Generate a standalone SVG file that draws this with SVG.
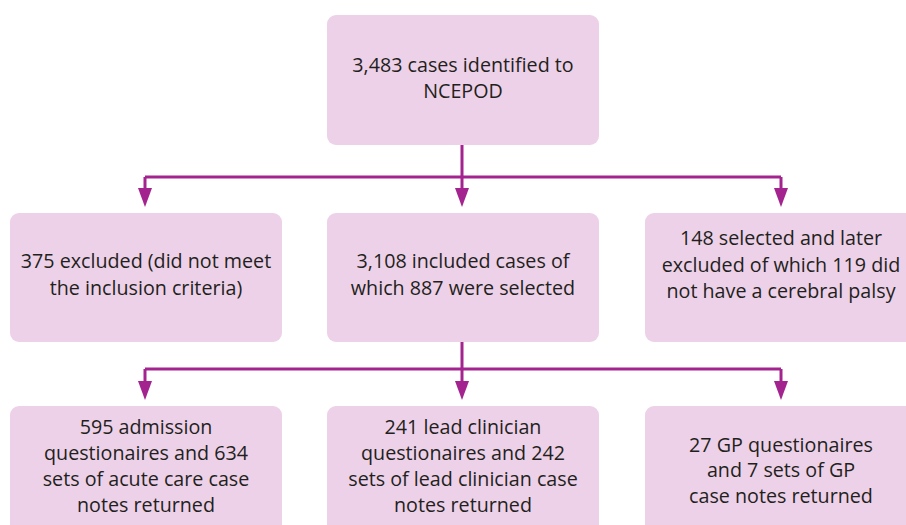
<svg xmlns="http://www.w3.org/2000/svg" width="906" height="525" viewBox="0 0 906 525">
<style>
.box{fill:#edd1e8;}
.t{font-family:"Open Sans","Noto Sans",sans-serif;font-size:19.7px;fill:#231f20;text-anchor:middle;}
.c{fill:none;stroke:#a3238f;stroke-width:3;}
.ah{fill:#a3238f;}
</style>
<rect width="906" height="525" fill="#ffffff"/>
<g id="connectors">
<path class="c" d="M462,145 V177"/>
<path class="c" d="M145,177 H781"/>
<path class="c" d="M145,177 V188"/>
<path class="c" d="M462,177 V188"/>
<path class="c" d="M781,177 V188"/>
<path class="ah" d="M138,188 L152,188 L145,207 Z"/>
<path class="ah" d="M455,188 L469,188 L462,207 Z"/>
<path class="ah" d="M774,188 L788,188 L781,207 Z"/>
<path class="c" d="M462,342 V369"/>
<path class="c" d="M145,369 H781"/>
<path class="c" d="M145,369 V382"/>
<path class="c" d="M462,369 V382"/>
<path class="c" d="M781,369 V382"/>
<path class="ah" d="M138,381 L152,381 L145,400 Z"/>
<path class="ah" d="M455,381 L469,381 L462,400 Z"/>
<path class="ah" d="M774,381 L788,381 L781,400 Z"/>
</g>
<g id="n1">
<rect class="box" x="327" y="15" width="272" height="130" rx="9"/>
<text class="t" x="463" y="72">3,483 cases identified to</text>
<text class="t" x="463" y="98">NCEPOD</text>
</g>
<g id="n2">
<rect class="box" x="10" y="213" width="272" height="129" rx="9"/>
<text class="t" x="146" y="268">375 excluded (did not meet</text>
<text class="t" x="146" y="295">the inclusion criteria)</text>
</g>
<g id="n3">
<rect class="box" x="327" y="213" width="272" height="129" rx="9"/>
<text class="t" x="463" y="268">3,108 included cases of</text>
<text class="t" x="463" y="295">which 887 were selected</text>
</g>
<g id="n4">
<rect class="box" x="645" y="213" width="272" height="129" rx="9"/>
<text class="t" x="781" y="245">148 selected and later</text>
<text class="t" x="781" y="272">excluded of which 119 did</text>
<text class="t" x="781" y="298">not have a cerebral palsy</text>
</g>
<g id="n5">
<rect class="box" x="10" y="406" width="272" height="130" rx="9"/>
<text class="t" x="146" y="434">595 admission</text>
<text class="t" x="146" y="460">questionaires and 634</text>
<text class="t" x="146" y="486">sets of acute care case</text>
<text class="t" x="146" y="512">notes returned</text>
</g>
<g id="n6">
<rect class="box" x="327" y="406" width="272" height="130" rx="9"/>
<text class="t" x="463" y="434">241 lead clinician</text>
<text class="t" x="463" y="460">questionaires and 242</text>
<text class="t" x="463" y="486">sets of lead clinician case</text>
<text class="t" x="463" y="512">notes returned</text>
</g>
<g id="n7">
<rect class="box" x="645" y="406" width="272" height="130" rx="9"/>
<text class="t" x="781" y="452">27 GP questionaires</text>
<text class="t" x="781" y="477">and 7 sets of GP</text>
<text class="t" x="781" y="503">case notes returned</text>
</g>
</svg>
